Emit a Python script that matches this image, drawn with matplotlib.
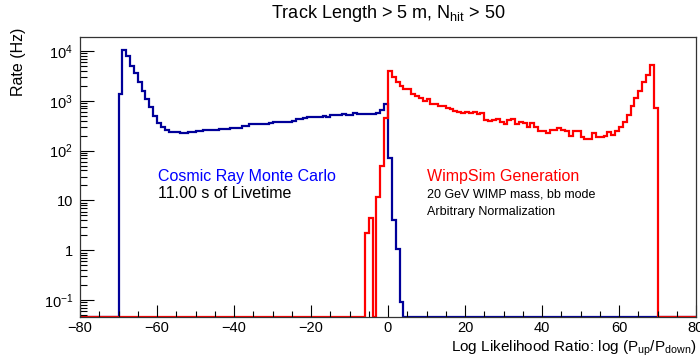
import numpy as np
import matplotlib
matplotlib.use('Agg')
from matplotlib import pyplot as plt
from matplotlib.ticker import FixedLocator, MultipleLocator

plt.rcParams['font.family'] = ['Liberation Sans', 'DejaVu Sans']
plt.rcParams['mathtext.default'] = 'regular'

# histogram binning: 160 bins of width 1 between -80 and 80
x_min, x_max = -80, 80

# cosmic ray MC rate (Hz), bins starting at -70
cosmic_start = -70
cosmic_rate = [
    1370, 10500, 7830, 5070, 3570, 2420, 1575, 1072, 760, 503,
    363, 302, 259, 233, 233, 233, 222, 222, 233, 233,
    248, 248, 259, 259, 259, 259, 272, 272, 272, 285,
    285, 285, 312, 312, 337, 337, 337, 337, 337, 353,
    370, 370, 381, 381, 381, 400, 425, 425, 446, 468,
    468, 480, 468, 503, 480, 519, 519, 519, 543, 519,
    519, 560, 543, 543, 543, 543, 543, 577, 653, 850,
    70, 4.0, 1.04, 0.093,
]

# WimpSim rate (arbitrary normalization), bins starting at -6
wimp_start = -6
wimp_rate = [
    2.2, 4.4, 0, 11.9, 50, 446,
    3990, 3050, 2420, 1980, 1700, 1700, 1350, 1250, 1120, 1000,
    1070, 863, 863, 787, 767, 720, 670, 624, 590, 560,
    603, 560, 590, 537, 580, 411, 393, 411, 425, 381,
    338, 411, 425, 338, 370, 355, 294, 355, 302, 251,
    251, 227, 259, 259, 281, 259, 251, 196, 251, 251,
    185, 169, 169, 222, 190, 190, 196, 240, 205, 251,
    302, 381, 519, 767, 1120, 1600, 2420, 3300, 5280, 705,
]

y_low, y_high = 0.046, 1.9e4
y_ticks = [0.1, 1, 10, 100, 1e3, 1e4]
y_tick_labels = ['10$^{-1}$', '1', '10', '10$^{2}$', '10$^{3}$', '10$^{4}$']


def full_hist(values, start):
    counts = np.zeros(x_max - x_min)
    i0 = start - x_min
    counts[i0:i0 + len(values)] = values
    # empty bins sit on the bottom of the frame, like ROOT draws them
    return np.where(counts > 0, counts, y_low)


edges = np.arange(x_min, x_max + 1, 1)
cosmic = full_hist(cosmic_rate, cosmic_start)
wimp = full_hist(wimp_rate, wimp_start)

fig = plt.figure(figsize=(7.0, 3.61), dpi=100)
ax = fig.add_axes([80 / 700, 1 - 317 / 361, 616 / 700, 280 / 361])

ax.stairs(cosmic, edges, baseline=None, color='#000099', lw=1.6)
ax.stairs(wimp, edges, baseline=None, color='#ff0000', lw=1.6)

ax.set_yscale('log')
ax.set_xlim(x_min, x_max)
ax.set_ylim(y_low, y_high)

ax.xaxis.set_major_locator(MultipleLocator(20))
ax.xaxis.set_minor_locator(MultipleLocator(5))
ax.yaxis.set_major_locator(FixedLocator(y_ticks))
ax.set_yticklabels(y_tick_labels)
minor_y = [m * 10.0 ** e for e in range(-2, 5) for m in range(2, 10)]
ax.yaxis.set_minor_locator(FixedLocator(minor_y))
ax.yaxis.set_minor_formatter(plt.NullFormatter())

ax.tick_params(which='both', direction='in', top=False, right=False,
               labelsize=10.5, width=0.8, color='black')
ax.tick_params(axis='x', which='major', length=9, pad=3)
ax.tick_params(axis='x', which='minor', length=4.5)
ax.tick_params(axis='y', which='major', length=10, pad=5)
ax.tick_params(axis='y', which='minor', length=5)
for s in ax.spines.values():
    s.set_linewidth(0.9)
    s.set_color('#333333')

fig.text(388 / 700, 1 - 14 / 361, 'Track Length > 5 m, N$_{hit}$ > 50',
         ha='center', va='center', fontsize=13)
fig.text(19 / 700, 1 - 28 / 361, 'Rate (Hz)', rotation=90,
         ha='center', va='top', fontsize=11.5)
fig.text(697 / 700, 1 - 348 / 361,
         'Log Likelihood Ratio: log (P$_{up}$/P$_{down}$)',
         ha='right', va='center', fontsize=11)

# legend-like annotations
ax.text(0.1266, 1 - (176 - 37) / 280, 'Cosmic Ray Monte Carlo', color='#0000ff',
        transform=ax.transAxes, ha='left', va='center', fontsize=11.5)
ax.text(0.1266, 1 - (193 - 37) / 280, '11.00 s of Livetime', color='black',
        transform=ax.transAxes, ha='left', va='center', fontsize=11.5)
ax.text((427 - 80) / 616, 1 - (176 - 37) / 280, 'WimpSim Generation', color='#ff0000',
        transform=ax.transAxes, ha='left', va='center', fontsize=11.5)
ax.text((427 - 80) / 616, 1 - (194 - 37) / 280, '20 GeV WIMP mass, bb mode',
        transform=ax.transAxes, ha='left', va='center', fontsize=9)
ax.text((427 - 80) / 616, 1 - (212 - 37) / 280, 'Arbitrary Normalization',
        transform=ax.transAxes, ha='left', va='center', fontsize=9)

fig.savefig('out.png', dpi=100)
